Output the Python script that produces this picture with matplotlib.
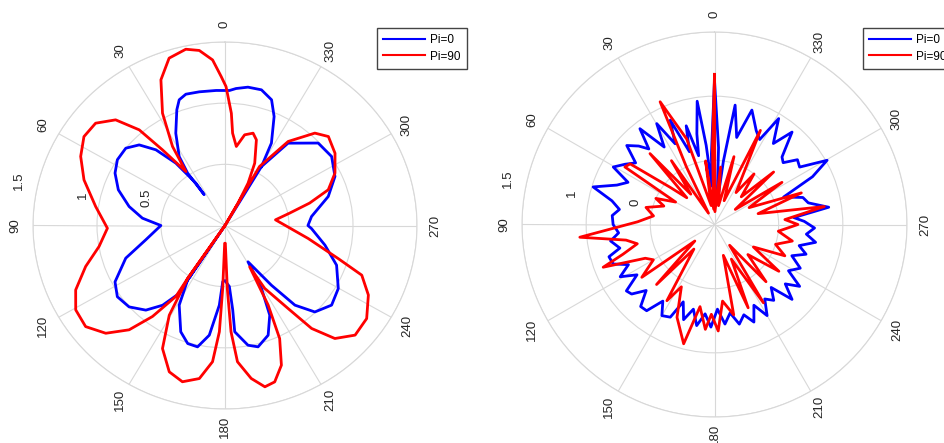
import numpy as np
import matplotlib
matplotlib.use('Agg')
import matplotlib.pyplot as plt
from matplotlib.transforms import ScaledTranslation

# Angles in degrees, measured from the top (0) going counter-clockwise.
# Each curve is listed as points along the path.

# ---- left panel ----
left_blue_theta = [329.4, 331.7, 336.7, 340.5, 345.6, 351.0, 355.6, 358.2, 3.6, 10.4,
                   15.9, 19.2, 21.7, 27.0, 32.4, 34.3, 32.8, 33.3, 37.0, 41.1,
                   45.5, 50.8, 57.4, 63.5, 70.7, 78.3, 84.7, 90.0, 100.7, 109.0,
                   118.2, 124.7, 131.6, 138.2, 143.2, 147.2, 146.8, 146.8, 146.8, 151.2,
                   158.3, 163.2, 167.8, 172.2, 176.1, 177.8, 180.0, 183.9, 185.0, 185.0,
                   190.4, 194.6, 200.6, 205.5, 209.0, 211.2, 216.6, 220.0, 224.8, 232.0,
                   239.8, 249.6, 258.4, 267.9, 270.0, 276.2, 286.4, 295.0, 304.1, 312.8,
                   323.8, 329.4, 329.4]
left_blue_r = [0.56, 0.765, 0.97, 1.09, 1.145, 1.145, 1.123, 1.104, 1.106, 1.111,
               1.116, 1.088, 1.018, 0.847, 0.668, 0.518, 0.30, 0.414, 0.638, 0.821,
               0.94, 1.0, 0.998, 0.96, 0.883, 0.765, 0.648, 0.501, 0.63, 0.82,
               0.975, 1.023, 1.002, 0.928, 0.814, 0.661, 0.534, 0.0, 0.534, 0.743,
               0.935, 1.008, 1.015, 0.905, 0.653, 0.46, 0.45, 0.5, 0.692, 0.872,
               0.995, 1.025, 0.958, 0.812, 0.588, 0.347, 0.608, 0.85, 0.996, 1.057,
               1.024, 0.93, 0.797, 0.676, 0.648, 0.68, 0.841, 0.948, 1.006, 0.992,
               0.834, 0.56, 0.0]

left_red_theta = [330.9, 330.9, 332.5, 335.5, 340.7, 343.8, 348.3, 352.2, 355.5, 356.9,
                  359.6, 1.4, 4.1, 8.0, 12.0, 17.7, 22.8, 28.0, 32.4, 34.7,
                  38.3, 40.6, 44.7, 50.4, 56.6, 63.4, 71.3, 81.3, 91.4, 99.9,
                  107.1, 114.3, 120.6, 127.2, 133.4, 138.7, 142.7, 146.5, 146.0, 146.0,
                  146.0, 149.3, 154.1, 160.0, 165.4, 170.9, 175.0, 177.1, 178.0, 179.0,
                  181.0, 182.0, 183.1, 185.0, 189.3, 193.3, 196.9, 201.1, 204.8, 207.4,
                  209.7, 211.1, 216.0, 218.8, 222.9, 228.6, 235.5, 243.1, 249.2, 253.0,
                  260.7, 276.7, 281.3, 285.5, 289.9, 296.5, 304.5, 312.0, 317.1, 324.3,
                  330.8, 330.8]
left_red_r = [0.0, 0.209, 0.39, 0.56, 0.742, 0.786, 0.757, 0.652, 0.757, 0.919,
              1.136, 1.218, 1.357, 1.445, 1.473, 1.436, 1.292, 1.04, 0.765, 0.536,
              0.788, 1.03, 1.215, 1.312, 1.32, 1.261, 1.163, 1.022, 0.919, 0.999,
              1.139, 1.28, 1.355, 1.367, 1.282, 1.135, 0.935, 0.696, 0.522, 0.0,
              0.522, 0.853, 1.118, 1.273, 1.32, 1.267, 1.118, 0.87, 0.515, 0.145,
              0.145, 0.515, 0.87, 1.118, 1.267, 1.355, 1.336, 1.224, 1.018, 0.733,
              0.389, 0.6, 0.839, 1.08, 1.261, 1.355, 1.343, 1.256, 1.143, 0.925,
              0.659, 0.397, 0.514, 0.686, 0.858, 0.96, 1.043, 1.087, 1.031, 0.846,
              0.552, 0.0]

# ---- right panel ----
right_blue_theta = [0, 2.5, 4, 6, 8, 11, 13, 16, 19, 23, 26, 29.8, 33, 37.9, 41, 44, 48, 52,
                    56, 60.4, 64, 68, 72.8, 77, 81, 85, 90, 95, 99, 104, 107, 111.3, 115, 119,
                    123, 127, 130, 134, 138, 141.8, 146, 150, 154.5, 158, 162, 166, 170, 174,
                    178, 182, 186, 190, 194, 198, 202, 206, 210, 214, 218, 222, 226, 230, 234,
                    238, 243, 248, 252, 256, 260, 264, 268, 272, 275, 278.6, 283, 287, 291.7,
                    296, 299.7, 304, 308, 312, 315, 320, 324, 328.8, 332, 336, 341.9, 345.7,
                    350.2, 352, 353, 357, 360]
right_blue_r = [1.125, 0.55, 0.3, 0.62, 0.97, 0.72, 0.55, 0.8, 0.6, 0.883, 0.7, 0.906, 0.72,
                0.946, 0.78, 0.85, 0.92, 0.78, 0.84, 0.907, 0.75, 0.82, 0.99, 0.82, 0.75, 0.8,
                0.79, 0.75, 0.82, 0.76, 0.86, 0.847, 0.74, 0.84, 0.72, 0.86, 0.843, 0.74, 0.86,
                0.855, 0.72, 0.82, 0.8, 0.65, 0.78, 0.68, 0.8, 0.7, 0.8, 0.66, 0.78, 0.7, 0.8,
                0.74, 0.82, 0.7, 0.82, 0.7, 0.75, 0.66, 0.84, 0.72, 0.82, 0.68, 0.75, 0.65,
                0.75, 0.68, 0.8, 0.72, 0.78, 0.7, 0.62, 0.9, 0.75, 0.72, 0.58, 0.85, 1.01, 0.8,
                0.82, 0.72, 0.744, 0.94, 0.78, 0.965, 0.75, 0.8, 0.938, 0.70, 0.944, 0.5,
                0.164, 0.6, 1.125]

right_red_theta = [0, 1.5, 3, 8, 10, 18, 23.9, 26, 28, 34, 38, 42.3, 46, 50, 54.3, 57.3, 60,
                   66, 70, 76, 82, 88, 95.4, 100, 104, 108, 111, 116, 120, 126, 130, 136, 140,
                   148, 152, 158, 165.5, 170, 175, 178, 182, 186, 192, 196, 202, 206, 212, 216,
                   222, 228, 234, 240, 246, 252, 258, 264, 270, 274, 279.3, 284, 290, 296, 302,
                   306, 311.6, 316, 322, 326, 334, 338, 344, 348, 354, 358, 360]
right_red_r = [1.17, 0.6, 0.12, 0.5, 0.15, 0.7, 1.046, 0.5, 0.1, 0.6, 0.3, 0.747, 0.3, 0.45,
               0.81, 0.83, 0.35, 0.5, 0.42, 0.55, 0.48, 0.6, 1.054, 0.7, 0.62, 0.75, 0.929,
               0.6, 0.55, 0.7, 0.2, 0.65, 0.25, 0.7, 0.55, 0.78, 0.96, 0.65, 0.82, 0.7, 0.83,
               0.6, 0.72, 0.25, 0.7, 0.3, 0.72, 0.2, 0.6, 0.35, 0.62, 0.35, 0.6, 0.5, 0.62,
               0.5, 0.65, 0.55, 0.867, 0.35, 0.72, 0.3, 0.62, 0.2, 0.616, 0.3, 0.5, 0.3,
               0.816, 0.2, 0.55, 0.15, 0.45, 0.1, 1.17]

angle_ticks = list(range(0, 360, 30))
r_ticks = [0.5, 1.0, 1.5]
left_r_labels = ['0.5', '1', '1.5']
right_r_labels = ['0', '1', '1.5']
series_names = ['Pi=0', 'Pi=90']

GRID = '#d8d8d8'
TXT = '#262626'
FONT = 'Liberation Sans'


def setup(ax, rlabels):
    ax.set_theta_zero_location('N')
    ax.set_theta_direction(1)
    ax.set_ylim(0, 1.5)
    ax.set_rgrids(r_ticks, labels=[''] * len(r_ticks))
    ax.set_thetagrids(angle_ticks, labels=[str(a) for a in angle_ticks],
                      fontsize=9.5, family=FONT, color=TXT)
    ax.tick_params(axis='x', pad=2.5, labelrotation=90)
    ax.grid(True, color=GRID, lw=0.8)
    ax.spines['polar'].set_color(GRID)
    ax.spines['polar'].set_linewidth(0.8)
    # radial labels sit just above the 90 deg spoke, like the original
    shift = ax.transData + ScaledTranslation(0, 6 / 72, fig.dpi_scale_trans)
    for rv, lab in zip(r_ticks, rlabels):
        ax.text(np.deg2rad(82), rv + 0.075, lab, rotation=90, rotation_mode='anchor',
                ha='left', va='bottom', fontsize=9.5, family=FONT, color=TXT,
                transform=shift)


fig = plt.figure(figsize=(9.45, 4.43), dpi=100)
ax1 = fig.add_axes([33 / 945, 34 / 443, 384 / 945, 367 / 443], projection='polar')
ax2 = fig.add_axes([522 / 945, 26 / 443, 385 / 945, 385 / 443], projection='polar')
ax1.set_aspect('auto')

setup(ax1, left_r_labels)
setup(ax2, right_r_labels)

ax1.plot(np.deg2rad(left_blue_theta), left_blue_r, color='#0000ff', lw=2, label=series_names[0])
ax1.plot(np.deg2rad(left_red_theta), left_red_r, color='#ff0000', lw=2, label=series_names[1])
ax2.plot(np.deg2rad(right_blue_theta), right_blue_r, color='#0000ff', lw=2, label=series_names[0])
ax2.plot(np.deg2rad(right_red_theta), right_red_r, color='#ff0000', lw=2, label=series_names[1])

for ax, x0 in [(ax1, 377), (ax2, 863)]:
    leg = ax.legend(loc='upper left', bbox_to_anchor=(x0 / 945, 1 - 28 / 443),
                    bbox_transform=fig.transFigure, borderaxespad=0,
                    prop={'family': FONT, 'size': 8.5}, handlelength=3.6,
                    handletextpad=0.4, labelspacing=0.4, borderpad=0.5,
                    fancybox=False, framealpha=1)
    leg.get_frame().set_edgecolor('#444444')
    leg.get_frame().set_linewidth(1.0)
    for line in leg.get_lines():
        line.set_linewidth(1.5)

fig.savefig('out.png', dpi=100)
